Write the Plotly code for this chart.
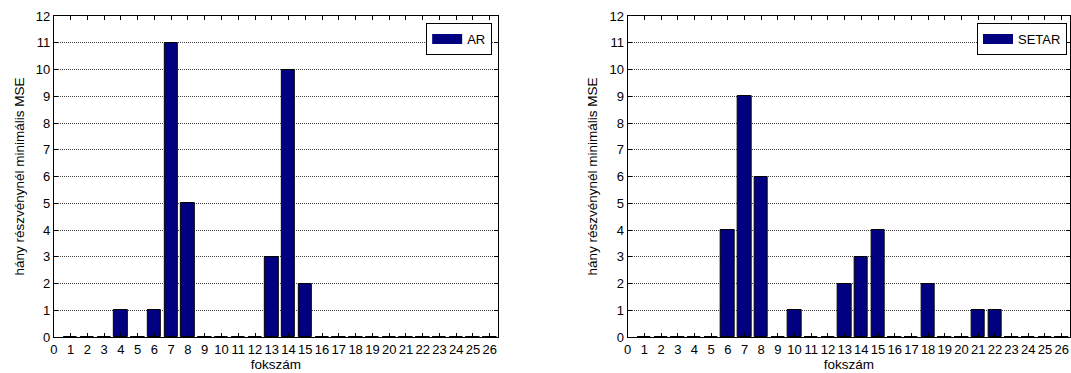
import plotly.graph_objects as go

# Polynomial order (fokszám) and how many stocks had minimal MSE at that order
orders = list(range(1, 27))
ar_counts = [0, 0, 0, 1, 0, 1, 11, 5, 0, 0, 0, 0, 3, 10, 2,
             0, 0, 0, 0, 0, 0, 0, 0, 0, 0, 0]
setar_counts = [0, 0, 0, 0, 0, 4, 9, 6, 0, 1, 0, 0, 2, 3, 4,
                0, 0, 2, 0, 0, 1, 1, 0, 0, 0, 0]
x_ticks = list(range(0, 27))
y_ticks = list(range(0, 13))

W, H = 1071, 373
BAR_FILL = "#000080"
FONT = "Liberation Sans, Arial, sans-serif"
TICK_SIZE = 13
TITLE_SIZE = 13.5

fig = go.Figure()

panels = [
    ("AR", ar_counts, "x", "y", "legend"),
    ("SETAR", setar_counts, "x2", "y2", "legend2"),
]
for name, counts, xa, ya, lg in panels:
    fig.add_trace(go.Bar(
        x=orders, y=counts, width=0.8, xaxis=xa, yaxis=ya,
        marker=dict(color=BAR_FILL, line=dict(color="black", width=1)),
        showlegend=False, legendgroup=name, name=name,
    ))
    # legend swatch shown as a wide filled patch
    fig.add_trace(go.Scatter(
        x=[None], y=[None], mode="lines", xaxis=xa, yaxis=ya,
        line=dict(color=BAR_FILL, width=10),
        name=name, legendgroup=name, legend=lg, showlegend=True,
    ))

axis_common = dict(
    showline=True, linecolor="black", linewidth=1, mirror="ticks",
    ticks="inside", ticklen=4, tickcolor="black",
    tickfont=dict(family=FONT, size=TICK_SIZE, color="black"),
    zeroline=False, fixedrange=True,
)
x_common = dict(axis_common, range=[0, 26.5], tickmode="array",
                tickvals=x_ticks, ticktext=[str(t) for t in x_ticks],
                showgrid=False,
                title=dict(text="fokszám",
                           font=dict(family=FONT, size=TITLE_SIZE, color="black"),
                           standoff=2))
y_common = dict(axis_common, range=[0, 12], tickmode="array", tickvals=y_ticks,
                showgrid=True, gridcolor="#404040", griddash="1px,1px", gridwidth=1,
                title=dict(text="hány részvénynél minimális MSE",
                           font=dict(family=FONT, size=TITLE_SIZE, color="black"),
                           standoff=8))

legend_common = dict(
    xref="paper", xanchor="right", y=0.978, yanchor="top",
    bgcolor="white", bordercolor="black", borderwidth=1,
    font=dict(family=FONT, size=TICK_SIZE, color="black"),
    itemwidth=30, tracegroupgap=0,
)

fig.update_layout(
    width=W, height=H,
    margin=dict(l=0, r=0, t=16, b=36),
    paper_bgcolor="white", plot_bgcolor="white",
    bargap=0,
    xaxis=dict(x_common, domain=[50 / W, 496 / W], anchor="y"),
    yaxis=dict(y_common, anchor="x"),
    xaxis2=dict(x_common, domain=[626 / W, 1070 / W], anchor="y2"),
    yaxis2=dict(y_common, anchor="x2"),
    legend=dict(legend_common, x=490 / W),
    legend2=dict(legend_common, x=1067 / W),
)

fig.write_html("out.html")
